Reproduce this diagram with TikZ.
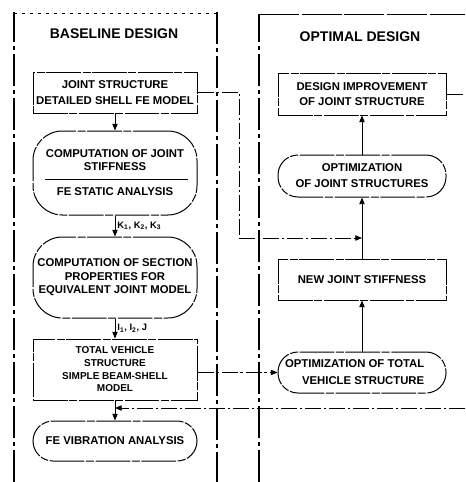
\documentclass[tikz,border=0pt]{standalone}
\usepackage{fontspec}
\setmainfont{Liberation Sans}
\usetikzlibrary{arrows.meta,calc}
\begin{document}
\begin{tikzpicture}[x=0.75pt,y=-0.75pt,
  txt/.style={font=\fontsize{8.5}{11.5}\selectfont\bfseries, align=center, inner sep=0pt},
  title/.style={font=\fontsize{10.5}{12}\selectfont\bfseries, inner sep=0pt},
  lab/.style={font=\fontsize{7}{8}\selectfont\bfseries, inner sep=1.5pt},
  outline/.style={line width=0.75pt, dash pattern=on 26pt off 1.2pt on 6pt off 1.2pt},
  rectbox/.style={txt, draw, outline, minimum width=123pt, minimum height=30.75pt},
  pill/.style={rectbox, rounded corners=15pt},
  bigpill/.style={rectbox, rounded corners=22pt},
  flow/.style={line width=0.7pt, -{Triangle[length=5pt,width=4pt]}},
  link/.style={line width=0.6pt, dash pattern=on 12pt off 2pt on 2pt off 2pt},
  frame/.style={line width=0.8pt, dash pattern=on 24pt off 3pt on 3pt off 3pt}]

\useasboundingbox (0,0) rectangle (465,482);

% column frames
\draw[frame] (14,482) -- (14,12);
\draw[line width=0.5pt, dash pattern=on 2pt off 4pt] (14,13) -- (217,13);
\draw[frame] (217,12) -- (217,482);
\draw[frame] (259,482) -- (259,14);
\draw[line width=0.6pt, dash pattern=on 30pt off 2pt] (259,14) -- (465,14);

% titles
\node[title] (tl) at (114,34) {BASELINE DESIGN};
\node[title] (tr) at (360,37) {OPTIMAL DESIGN};

% baseline design chain
\node[rectbox, font=\fontsize{8.5}{12}\selectfont\bfseries] (b1) at (115,92.5)
  {JOINT STRUCTURE\\DETAILED SHELL FE MODEL};
\node[bigpill, minimum height=63pt, font=\fontsize{8.5}{9.75}\selectfont\bfseries] (s2) at (115,173)
  {COMPUTATION OF JOINT\\STIFFNESS\\[9pt]FE STATIC ANALYSIS};
\draw[line width=0.7pt] ($(s2.west)+(12,6)$) -- ($(s2.east)+(-10,6)$);
\node[bigpill, minimum height=60.75pt, font=\fontsize{8.5}{10.1}\selectfont\bfseries] (s3) at (115,277.5)
  {COMPUTATION OF SECTION\\PROPERTIES FOR\\EQUIVALENT JOINT MODEL};
\node[rectbox, minimum height=45.75pt, font=\fontsize{7.5}{9.5}\selectfont\bfseries] (b4) at (115,369.5)
  {TOTAL VEHICLE\\STRUCTURE\\SIMPLE BEAM-SHELL\\MODEL};
\node[pill, minimum height=30pt] (fe) at (115,441) {FE VIBRATION ANALYSIS};

\draw[flow] (b1.south) -- (s2.north);
\draw[flow] (s2.south) -- node[lab, right] {K\textsubscript{1}, K\textsubscript{2}, K\textsubscript{3}} (s3.north);
\draw[flow] (s3.south) -- node[lab, right] {I\textsubscript{1}, I\textsubscript{2}, J} (b4.north);
\draw[flow] (b4.south) -- (fe.north);

% optimal design chain
\node[rectbox, minimum width=126pt, minimum height=31.5pt, font=\fontsize{8.5}{11.25}\selectfont\bfseries] (r1) at (362,94)
  {DESIGN IMPROVEMENT\\OF JOINT STRUCTURE};
\node[pill, minimum width=126pt, minimum height=31.5pt, font=\fontsize{8.5}{12}\selectfont\bfseries] (r2) at (362,176)
  {OPTIMIZATION\\OF JOINT STRUCTURES};
\node[rectbox, minimum width=126pt] (r3) at (362,279.5) {NEW JOINT STIFFNESS};
\node[pill, minimum width=126pt] (r4) at (362,372.5) {};
\node[txt, align=right, anchor=east, font=\fontsize{8.5}{12.75}\selectfont\bfseries] (r4t) at ($(r4.east)+(-22,0)$)
  {OPTIMIZATION OF TOTAL\\VEHICLE STRUCTURE};

\draw[flow] (r4.north) -- (r3.south);
\draw[flow] (r3.north) -- (r2.south);
\draw[flow] (r2.north) -- (r1.south);

% links between the two columns
\coordinate (jbend) at (239,238);
\coordinate (jn) at (362,238);
\draw[link] (b1.east) -| (jbend);
\draw[link, -{Triangle[length=5pt,width=4pt]}] (jbend) -- (jn);
\coordinate (outR) at (465,94);
\draw[link] (r1.east) -- (outR);
\draw[link, -{Triangle[length=5pt,width=4pt]}] (b4.east |- r4.west) -- (r4.west);
\coordinate (fbR) at (465,408);
\coordinate (fbL) at (115,408);
\draw[link, -{Triangle[length=5pt,width=4pt]}] (fbR) -- (fbL);
\end{tikzpicture}
\end{document}
